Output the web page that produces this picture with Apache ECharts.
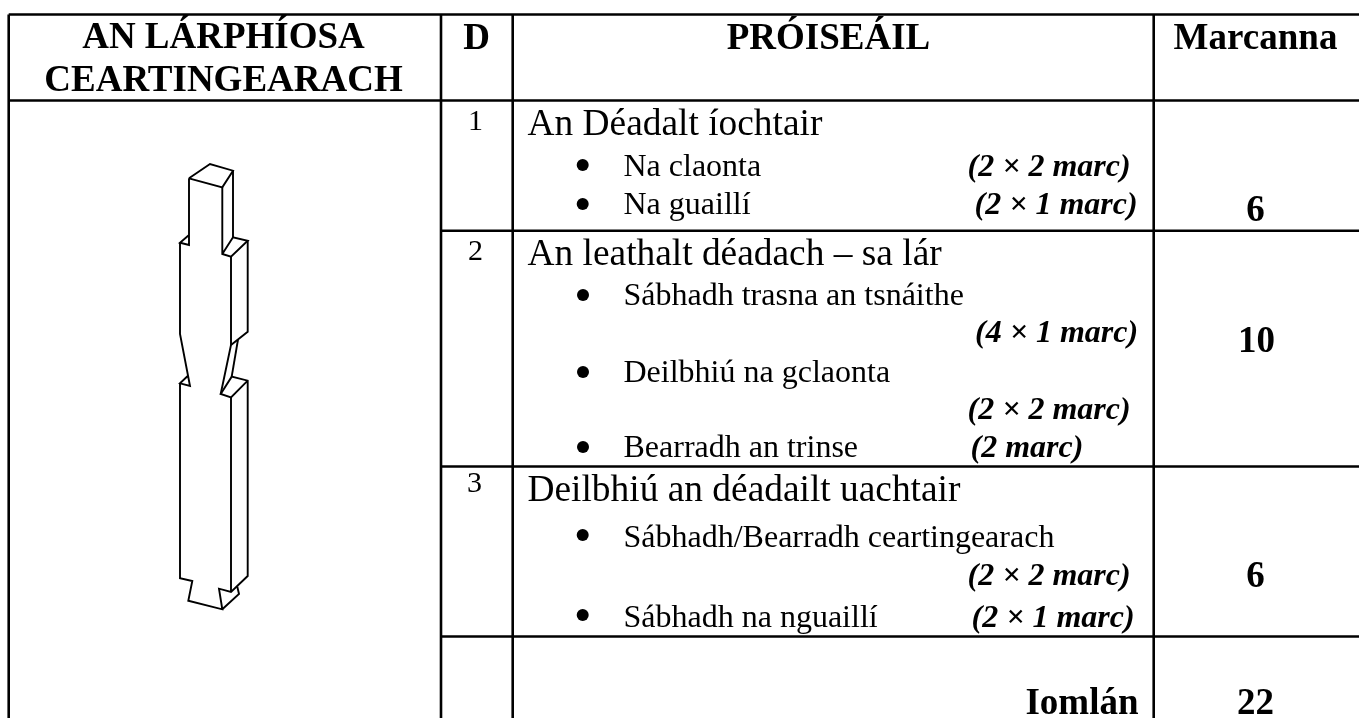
<!DOCTYPE html>
<html>
<head>
<meta charset="utf-8">
<title>An Lárphíosa Ceartingearach</title>
<style>
  html, body { margin: 0; padding: 0; background: #fff; }
  #chart { width: 1359px; height: 718px; }
</style>
<script src="https://cdn.jsdelivr.net/npm/echarts@6/dist/echarts.min.js"></script>
</head>
<body>
<div id="chart"></div>
<script>
// table text
const headerLabels = ['AN LÁRPHÍOSA', 'CEARTINGEARACH', 'D', 'PRÓISEÁIL', 'Marcanna'];
const stepLabels = ['1', '2', '3'];
const titleLabels = ['An Déadalt íochtair', 'An leathalt déadach – sa lár', 'Deilbhiú an déadailt uachtair'];
const taskLabels = [
  'Na claonta', 'Na guaillí',
  'Sábhadh trasna an tsnáithe', 'Deilbhiú na gclaonta', 'Bearradh an trinse',
  'Sábhadh/Bearradh ceartingearach', 'Sábhadh na nguaillí'
];
const markNotes = [
  '(2 × 2 marc)', '(2 × 1 marc)',
  '(4 × 1 marc)', '(2 × 2 marc)', '(2 marc)',
  '(2 × 2 marc)', '(2 × 1 marc)'
];
const markTotals = ['6', '10', '6', '22'];
const totalLabel = ['Iomlán'];

// where the text sits: [x, baseline y]
const headerAt = [[224, 49], [224, 92], [477, 49.5], [829, 49.5], [1256, 49.5]];
const stepAt = [[476, 131], [476, 261], [475, 493]];
const titleAt = [[528, 136], [528, 266], [528, 502]];
const taskAt = [[624, 177], [624, 215], [624, 306], [624, 383], [624, 458], [624, 548], [624, 628]];
const noteAt = [[968, 177], [975, 215], [975.5, 343], [968, 420], [971, 458], [968, 586], [972, 628]];
const markAt = [[1256, 222], [1257, 353], [1256, 588], [1256, 715]];
const totalAt = [[1139, 715]];
const bulletAt = [[582.7, 165], [582.7, 204], [583, 295], [583, 372], [583, 447], [582.7, 535], [582.7, 615]];

// table rules
const tableRules = [
  [[8.7, 14.5], [1359, 14.5]],
  [[8.7, 100.5], [1359, 100.5]],
  [[441, 230.7], [1359, 230.7]],
  [[441, 466.5], [1359, 466.5]],
  [[441, 636.5], [1359, 636.5]],
  [[8.7, 14.5], [8.7, 718]],
  [[441, 14.5], [441, 718]],
  [[512.7, 14.5], [512.7, 718]],
  [[1153.7, 14.5], [1153.7, 718]]
];

// outline of the piece, one polyline per stroke
const pieceLines = [
  [[189, 178.3], [210, 164], [233, 170.7], [222.3, 187.3], [189, 178.3]],
  [[189, 178.3], [189, 245], [180, 242.7], [189, 235]],
  [[180, 242.7], [180, 334], [190, 386], [180, 383.3], [187.7, 376]],
  [[180, 383.3], [180, 578.3], [192.3, 581], [188.3, 600.7], [222.3, 609.3], [219, 588.7], [231, 592], [247.7, 576], [247.7, 380.7], [231.7, 376.7], [220.7, 394], [231, 397.3], [247.7, 380.7]],
  [[222.3, 187.3], [222.3, 254], [231, 256.7], [247.7, 240.7], [233, 237.3], [222.3, 254]],
  [[233, 170.7], [233, 237.3]],
  [[231, 256.7], [231, 345], [220.7, 394]],
  [[247.7, 240.7], [247.7, 331.7], [231, 345]],
  [[238, 339.5], [231.7, 376.7]],
  [[231, 397.3], [231, 592]],
  [[222.3, 609.3], [239, 594], [237.3, 586.7]]
];

const serif = '"Liberation Serif", "Times New Roman", serif';

function textSeries(labels, at, opt) {
  return {
    type: 'scatter',
    symbolSize: 1,
    silent: true,
    clip: false,
    itemStyle: { color: 'transparent', opacity: 1 },
    data: at.map((p, i) => ({ value: p, name: labels[i] })),
    label: {
      show: true,
      position: [0, 0],
      formatter: '{b}',
      color: '#000',
      opacity: 1,
      fontFamily: serif,
      fontSize: opt.size,
      fontWeight: opt.weight || 'normal',
      fontStyle: opt.style || 'normal',
      align: opt.align || 'left',
      verticalAlign: 'middle',
      offset: [0, -0.27 * opt.size]
    }
  };
}

function strokeSeries(points, width) {
  return {
    type: 'line',
    data: points,
    symbol: 'none',
    silent: true,
    clip: false,
    lineStyle: { color: '#000', width: width, join: 'miter' }
  };
}

const myChart = echarts.init(document.getElementById('chart'));

myChart.setOption({
  animation: false,
  backgroundColor: '#fff',
  grid: { left: 0, right: 0, top: 0, bottom: 0 },
  xAxis: { type: 'value', min: 0, max: 1359, show: false },
  yAxis: { type: 'value', min: 0, max: 718, inverse: true, show: false },
  series: [
    ...tableRules.map(r => strokeSeries(r, 2.6)),
    ...pieceLines.map(l => strokeSeries(l, 1.9)),
    {
      type: 'scatter',
      symbol: 'circle',
      symbolSize: 12,
      silent: true,
      itemStyle: { color: '#000', opacity: 1 },
      data: bulletAt
    },
    textSeries(headerLabels, headerAt, { size: 37, weight: 'bold', align: 'center' }),
    textSeries(stepLabels, stepAt, { size: 30, align: 'center' }),
    textSeries(titleLabels, titleAt, { size: 37.4 }),
    textSeries(taskLabels, taskAt, { size: 32 }),
    textSeries(markNotes, noteAt, { size: 32, weight: 'bold', style: 'italic' }),
    textSeries(markTotals, markAt, { size: 37, weight: 'bold', align: 'center' }),
    textSeries(totalLabel, totalAt, { size: 37, weight: 'bold', align: 'right' })
  ]
});
</script>
</body>
</html>
